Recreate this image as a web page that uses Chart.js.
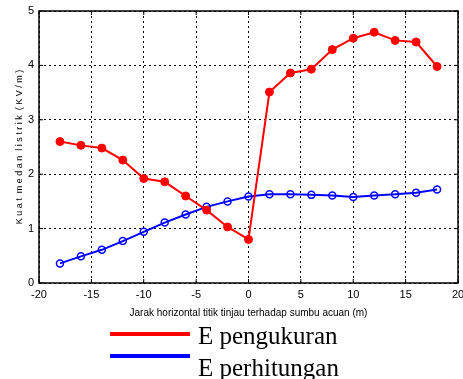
<!DOCTYPE html>
<html>
<head>
<meta charset="utf-8">
<script src="https://cdn.jsdelivr.net/npm/chart.js@4.4.0/dist/chart.umd.min.js"></script>
<style>
    html, body { margin: 0; padding: 0; background: #fff; }
    #wrap { width: 463px; height: 379px; position: relative; }
</style>
</head>
<body>
<div id="wrap"><canvas id="fieldChart"></canvas></div>
<script>
// titik tinjau (m)
const jarak = [-18, -16, -14, -12, -10, -8, -6, -4, -2, 0, 2, 4, 6, 8, 10, 12, 14, 16, 18];
const ePengukuran = [2.60, 2.53, 2.48, 2.26, 1.92, 1.86, 1.60, 1.34, 1.03, 0.80,
                     3.51, 3.86, 3.93, 4.29, 4.50, 4.61, 4.46, 4.43, 3.98];
const ePerhitungan = [0.36, 0.49, 0.61, 0.77, 0.94, 1.11, 1.26, 1.40, 1.50, 1.59,
                      1.63, 1.63, 1.62, 1.61, 1.58, 1.61, 1.63, 1.66, 1.72];
const xTicks = [-20, -15, -10, -5, 0, 5, 10, 15, 20];
const yTicks = [0, 1, 2, 3, 4, 5];

const sansFont = "'Liberation Sans', Arial, sans-serif";

const toPoints = (vals) => vals.map((v, i) => ({ x: jarak[i], y: v }));

// kotak di sekeliling area plot (gaya MATLAB)
const framePlugin = {
    id: 'frame',
    afterDraw(chart) {
        const { ctx, chartArea: a } = chart;
        ctx.save();
        ctx.strokeStyle = '#000';
        ctx.lineWidth = 1.5;
        ctx.strokeRect(a.left, a.top, a.right - a.left, a.bottom - a.top);
        // tick kecil ke dalam
        ctx.lineWidth = 1;
        const xs = chart.scales.x, ys = chart.scales.y;
        xTicks.forEach(t => {
            const px = xs.getPixelForValue(t);
            ctx.beginPath();
            ctx.moveTo(px, a.bottom); ctx.lineTo(px, a.bottom - 4);
            ctx.moveTo(px, a.top); ctx.lineTo(px, a.top + 4);
            ctx.stroke();
        });
        yTicks.forEach(t => {
            const py = ys.getPixelForValue(t);
            ctx.beginPath();
            ctx.moveTo(a.left, py); ctx.lineTo(a.left + 4, py);
            ctx.moveTo(a.right, py); ctx.lineTo(a.right - 4, py);
            ctx.stroke();
        });
        ctx.restore();
    }
};

// legenda di bawah grafik, satu baris per seri
const legendPlugin = {
    id: 'stackLegend',
    afterDraw(chart) {
        const { ctx } = chart;
        const rows = [334, 356];
        const baselines = [344, 376];
        ctx.save();
        chart.data.datasets.forEach((ds, i) => {
            ctx.strokeStyle = ds.borderColor;
            ctx.lineWidth = 4;
            ctx.beginPath();
            ctx.moveTo(110, rows[i]);
            ctx.lineTo(190, rows[i]);
            ctx.stroke();
            ctx.fillStyle = '#000';
            ctx.font = "25px 'Liberation Serif', 'Times New Roman', serif";
            ctx.textBaseline = 'alphabetic';
            ctx.fillText(ds.label, 198, baselines[i]);
        });
        ctx.restore();
    }
};

new Chart(document.getElementById('fieldChart').getContext('2d'), {
    type: 'line',
    data: {
        datasets: [
            {
                label: 'E pengukuran',
                data: toPoints(ePengukuran),
                borderColor: '#ff0000',
                backgroundColor: '#ff0000',
                borderWidth: 2,
                pointRadius: 4,
                pointBorderWidth: 1,
                pointHoverRadius: 4,
                tension: 0
            },
            {
                label: 'E perhitungan',
                data: toPoints(ePerhitungan),
                borderColor: '#0000ff',
                backgroundColor: 'rgba(255,255,255,0)',
                pointBackgroundColor: 'rgba(255,255,255,0)',
                borderWidth: 2,
                pointRadius: 3.5,
                pointBorderWidth: 1.5,
                pointHoverRadius: 3.5,
                tension: 0
            }
        ]
    },
    options: {
        responsive: true,
        maintainAspectRatio: false,
        animation: false,
        layout: {
            padding: { top: 11, right: 4, bottom: 60, left: 0 }
        },
        plugins: {
            legend: { display: false },
            tooltip: { enabled: false }
        },
        scales: {
            x: {
                type: 'linear',
                min: -20,
                max: 20,
                afterBuildTicks: (scale) => { scale.ticks = xTicks.map(v => ({ value: v })); },
                afterFit: (scale) => {
                    scale.height = 36;
                    scale.paddingLeft = 0;
                    scale.paddingRight = 0;
                },
                grid: { color: '#000', lineWidth: 1, drawTicks: false },
                border: { display: false, dash: [2, 3] },
                ticks: {
                    color: '#000',
                    padding: 5,
                    maxRotation: 0,
                    font: { family: sansFont, size: 11 }
                },
                title: {
                    display: true,
                    text: 'Jarak horizontal titik tinjau terhadap sumbu acuan (m)',
                    color: '#000',
                    padding: { top: 0, bottom: 0 },
                    font: { family: sansFont, size: 10 }
                }
            },
            y: {
                min: 0,
                max: 5,
                afterBuildTicks: (scale) => { scale.ticks = yTicks.map(v => ({ value: v })); },
                afterFit: (scale) => {
                    scale.width = 39;
                    scale.paddingTop = 0;
                    scale.paddingBottom = 0;
                },
                grid: { color: '#000', lineWidth: 1, drawTicks: false },
                border: { display: false, dash: [2, 3] },
                ticks: {
                    color: '#000',
                    padding: 5,
                    font: { family: sansFont, size: 11 }
                },
                title: {
                    display: true,
                    text: 'K u a t  m e d a n  l i s t r i k  ( K V / m )',
                    color: '#000',
                    padding: { top: 14, bottom: 0 },
                    font: { family: sansFont, size: 9 }
                }
            }
        }
    },
    plugins: [framePlugin, legendPlugin]
});
</script>
</body>
</html>
